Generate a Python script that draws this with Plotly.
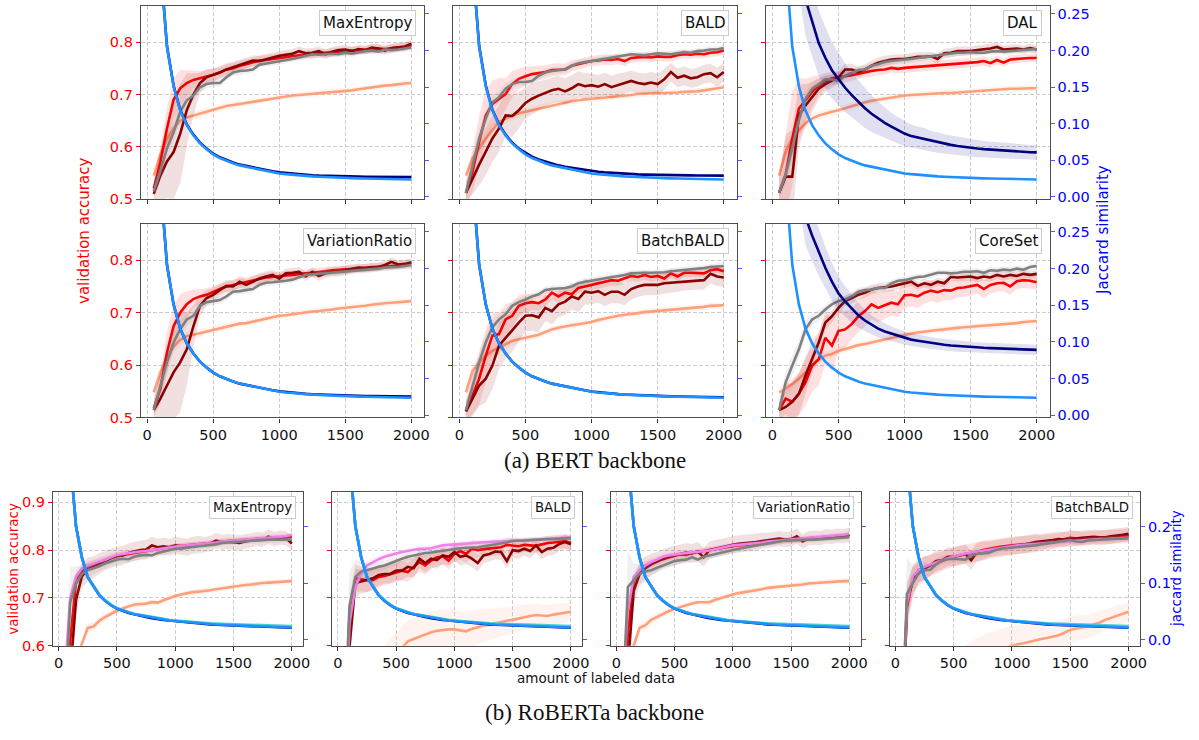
import plotly.graph_objects as go

W, H = 1199, 740

# amount of labeled data (shared x positions for every curve)
X_LABELED = [50, 100, 150, 200, 250, 300, 350, 400, 450, 500,
             550, 600, 650, 700, 750, 800, 850, 900, 950, 1000,
             1050, 1100, 1150, 1200, 1250, 1300, 1350, 1400, 1450, 1500,
             1550, 1600, 1650, 1700, 1750, 1800, 1850, 1900, 1950, 2000]

# ---------------- BERT: validation accuracy ----------------
ME_RED = [0.520, 0.570, 0.635, 0.690, 0.712, 0.722, 0.728, 0.731, 0.735, 0.738,
          0.742, 0.748, 0.750, 0.755, 0.758, 0.762, 0.765, 0.766, 0.768, 0.770,
          0.772, 0.774, 0.775, 0.776, 0.778, 0.779, 0.780, 0.781, 0.782, 0.783,
          0.784, 0.785, 0.786, 0.787, 0.788, 0.787, 0.789, 0.790, 0.791, 0.794]
ME_DRED = [0.510, 0.545, 0.572, 0.590, 0.625, 0.670, 0.700, 0.722, 0.733, 0.737,
           0.742, 0.748, 0.752, 0.756, 0.760, 0.765, 0.764, 0.768, 0.771, 0.774,
           0.776, 0.778, 0.783, 0.779, 0.780, 0.783, 0.777, 0.782, 0.785, 0.786,
           0.783, 0.787, 0.785, 0.790, 0.788, 0.784, 0.789, 0.790, 0.792, 0.797]
ME_GRAY = [0.515, 0.553, 0.597, 0.628, 0.667, 0.689, 0.698, 0.714, 0.720, 0.722,
           0.722, 0.733, 0.742, 0.745, 0.746, 0.748, 0.757, 0.759, 0.761, 0.763,
           0.765, 0.768, 0.771, 0.774, 0.777, 0.776, 0.777, 0.778, 0.777, 0.780,
           0.778, 0.781, 0.783, 0.784, 0.782, 0.786, 0.785, 0.786, 0.788, 0.790]
ME_SAL = [0.545, 0.585, 0.615, 0.635, 0.650, 0.656, 0.660, 0.663, 0.667, 0.671,
          0.675, 0.678, 0.680, 0.682, 0.685, 0.687, 0.689, 0.691, 0.693, 0.695,
          0.697, 0.698, 0.699, 0.700, 0.701, 0.703, 0.704, 0.705, 0.706, 0.707,
          0.708, 0.710, 0.712, 0.714, 0.716, 0.717, 0.718, 0.720, 0.721, 0.722]

BALD_RED = [0.512, 0.553, 0.610, 0.660, 0.682, 0.692, 0.701, 0.720, 0.730, 0.735,
            0.739, 0.741, 0.743, 0.747, 0.748, 0.748, 0.755, 0.758, 0.761, 0.764,
            0.765, 0.767, 0.766, 0.768, 0.764, 0.770, 0.771, 0.772, 0.771, 0.773,
            0.772, 0.772, 0.775, 0.777, 0.776, 0.778, 0.777, 0.780, 0.781, 0.784]
BALD_DRED = [0.512, 0.540, 0.566, 0.591, 0.616, 0.635, 0.660, 0.659, 0.670, 0.684,
             0.692, 0.698, 0.703, 0.708, 0.711, 0.706, 0.712, 0.720, 0.716, 0.718,
             0.715, 0.720, 0.714, 0.718, 0.722, 0.726, 0.722, 0.720, 0.723, 0.720,
             0.729, 0.743, 0.732, 0.736, 0.731, 0.733, 0.739, 0.741, 0.733, 0.743]
BALD_GRAY = [0.512, 0.565, 0.616, 0.654, 0.685, 0.695, 0.711, 0.720, 0.724, 0.724,
             0.726, 0.736, 0.742, 0.745, 0.746, 0.748, 0.755, 0.760, 0.762, 0.764,
             0.766, 0.768, 0.770, 0.772, 0.774, 0.777, 0.776, 0.775, 0.777, 0.779,
             0.778, 0.777, 0.779, 0.781, 0.780, 0.783, 0.784, 0.786, 0.786, 0.789]
BALD_SAL = [0.545, 0.578, 0.597, 0.616, 0.632, 0.648, 0.654, 0.659, 0.664, 0.667,
            0.670, 0.673, 0.676, 0.679, 0.682, 0.685, 0.687, 0.689, 0.691, 0.692,
            0.693, 0.694, 0.696, 0.697, 0.698, 0.699, 0.701, 0.702, 0.702, 0.703,
            0.703, 0.703, 0.704, 0.705, 0.705, 0.706, 0.708, 0.710, 0.712, 0.714]

DAL_RED = [0.512, 0.547, 0.616, 0.673, 0.689, 0.705, 0.717, 0.726, 0.731, 0.733,
           0.734, 0.737, 0.740, 0.743, 0.745, 0.747, 0.748, 0.751, 0.749, 0.751,
           0.752, 0.753, 0.754, 0.755, 0.755, 0.757, 0.757, 0.758, 0.759, 0.761,
           0.762, 0.764, 0.760, 0.766, 0.761, 0.767, 0.768, 0.770, 0.770, 0.770]
DAL_DRED = [0.512, 0.543, 0.543, 0.660, 0.679, 0.695, 0.711, 0.720, 0.726, 0.733,
            0.748, 0.748, 0.743, 0.748, 0.755, 0.761, 0.764, 0.767, 0.768, 0.768,
            0.770, 0.772, 0.772, 0.773, 0.768, 0.779, 0.780, 0.783, 0.783, 0.783,
            0.785, 0.786, 0.788, 0.791, 0.786, 0.787, 0.788, 0.786, 0.789, 0.786]
DAL_GRAY = [0.512, 0.547, 0.597, 0.651, 0.692, 0.711, 0.720, 0.729, 0.729, 0.726,
            0.736, 0.742, 0.747, 0.748, 0.755, 0.758, 0.762, 0.764, 0.765, 0.766,
            0.768, 0.770, 0.771, 0.773, 0.775, 0.777, 0.778, 0.780, 0.780, 0.781,
            0.780, 0.780, 0.782, 0.783, 0.782, 0.783, 0.784, 0.786, 0.786, 0.787]
DAL_SAL = [0.545, 0.591, 0.616, 0.632, 0.645, 0.654, 0.660, 0.664, 0.667, 0.670,
           0.674, 0.678, 0.681, 0.685, 0.688, 0.690, 0.693, 0.695, 0.696, 0.698,
           0.699, 0.700, 0.700, 0.701, 0.702, 0.703, 0.703, 0.704, 0.705, 0.706,
           0.707, 0.707, 0.708, 0.709, 0.710, 0.711, 0.711, 0.712, 0.712, 0.712]

VR_RED = [0.517, 0.555, 0.624, 0.674, 0.700, 0.716, 0.726, 0.731, 0.734, 0.740,
          0.745, 0.750, 0.753, 0.756, 0.759, 0.762, 0.765, 0.767, 0.768, 0.770,
          0.771, 0.772, 0.774, 0.775, 0.776, 0.777, 0.779, 0.781, 0.782, 0.782,
          0.783, 0.784, 0.785, 0.786, 0.788, 0.789, 0.789, 0.790, 0.791, 0.792]
VR_DRED = [0.514, 0.536, 0.561, 0.586, 0.605, 0.630, 0.674, 0.713, 0.728, 0.734,
           0.743, 0.751, 0.750, 0.759, 0.753, 0.759, 0.765, 0.769, 0.772, 0.765,
           0.775, 0.776, 0.778, 0.769, 0.778, 0.770, 0.775, 0.778, 0.778, 0.781,
           0.784, 0.786, 0.785, 0.787, 0.787, 0.791, 0.797, 0.792, 0.793, 0.796]
VR_GRAY = [0.514, 0.561, 0.605, 0.643, 0.668, 0.687, 0.694, 0.713, 0.720, 0.722,
           0.724, 0.731, 0.740, 0.741, 0.743, 0.745, 0.753, 0.757, 0.758, 0.759,
           0.761, 0.763, 0.768, 0.772, 0.773, 0.774, 0.775, 0.776, 0.777, 0.778,
           0.779, 0.781, 0.781, 0.782, 0.784, 0.786, 0.786, 0.787, 0.789, 0.791]
VR_SAL = [0.548, 0.586, 0.615, 0.635, 0.648, 0.655, 0.658, 0.661, 0.665, 0.668,
          0.671, 0.674, 0.677, 0.679, 0.680, 0.683, 0.686, 0.689, 0.692, 0.694,
          0.695, 0.697, 0.699, 0.700, 0.702, 0.703, 0.704, 0.706, 0.708, 0.709,
          0.710, 0.711, 0.713, 0.715, 0.717, 0.718, 0.719, 0.720, 0.721, 0.722]

BB_RED = [0.514, 0.542, 0.574, 0.618, 0.656, 0.659, 0.687, 0.694, 0.713, 0.718,
          0.720, 0.718, 0.725, 0.738, 0.731, 0.738, 0.735, 0.747, 0.750, 0.753,
          0.756, 0.759, 0.762, 0.761, 0.765, 0.770, 0.768, 0.772, 0.768, 0.770,
          0.765, 0.775, 0.769, 0.776, 0.776, 0.775, 0.775, 0.781, 0.783, 0.779]
BB_DRED = [0.511, 0.536, 0.561, 0.574, 0.599, 0.637, 0.652, 0.665, 0.681, 0.694,
           0.695, 0.691, 0.709, 0.703, 0.716, 0.721, 0.731, 0.726, 0.740, 0.738,
           0.741, 0.734, 0.740, 0.740, 0.734, 0.745, 0.750, 0.753, 0.753, 0.753,
           0.756, 0.757, 0.758, 0.760, 0.761, 0.762, 0.762, 0.774, 0.769, 0.767]
BB_GRAY = [0.514, 0.561, 0.605, 0.643, 0.672, 0.687, 0.697, 0.713, 0.720, 0.725,
           0.731, 0.735, 0.743, 0.745, 0.746, 0.747, 0.750, 0.756, 0.759, 0.761,
           0.763, 0.765, 0.767, 0.770, 0.772, 0.775, 0.776, 0.776, 0.776, 0.776,
           0.777, 0.779, 0.780, 0.781, 0.782, 0.784, 0.785, 0.787, 0.788, 0.789]
BB_SAL = [0.548, 0.589, 0.605, 0.618, 0.627, 0.633, 0.640, 0.646, 0.649, 0.652,
          0.655, 0.658, 0.663, 0.668, 0.671, 0.674, 0.676, 0.678, 0.680, 0.682,
          0.686, 0.689, 0.692, 0.694, 0.696, 0.697, 0.699, 0.701, 0.702, 0.703,
          0.704, 0.705, 0.707, 0.708, 0.708, 0.709, 0.711, 0.713, 0.713, 0.714]

CS_RED = [0.514, 0.536, 0.530, 0.545, 0.567, 0.599, 0.611, 0.652, 0.637, 0.665,
          0.668, 0.678, 0.693, 0.703, 0.716, 0.709, 0.714, 0.719, 0.716, 0.733,
          0.734, 0.731, 0.738, 0.742, 0.739, 0.743, 0.742, 0.747, 0.748, 0.750,
          0.753, 0.745, 0.753, 0.756, 0.757, 0.750, 0.760, 0.762, 0.761, 0.758]
CS_DRED = [0.514, 0.520, 0.530, 0.545, 0.580, 0.611, 0.643, 0.681, 0.693, 0.709,
           0.722, 0.728, 0.734, 0.738, 0.744, 0.747, 0.748, 0.750, 0.753, 0.756,
           0.759, 0.751, 0.756, 0.753, 0.759, 0.756, 0.768, 0.767, 0.768, 0.769,
           0.766, 0.769, 0.767, 0.772, 0.769, 0.772, 0.770, 0.774, 0.772, 0.774]
CS_GRAY = [0.514, 0.567, 0.599, 0.630, 0.668, 0.687, 0.694, 0.706, 0.716, 0.722,
           0.725, 0.731, 0.740, 0.743, 0.744, 0.747, 0.747, 0.756, 0.761, 0.762,
           0.765, 0.768, 0.769, 0.772, 0.776, 0.776, 0.775, 0.776, 0.778, 0.778,
           0.779, 0.776, 0.781, 0.780, 0.782, 0.781, 0.784, 0.782, 0.787, 0.789]
CS_SAL = [0.548, 0.555, 0.564, 0.574, 0.586, 0.599, 0.611, 0.618, 0.621, 0.627,
          0.631, 0.635, 0.638, 0.640, 0.643, 0.646, 0.649, 0.652, 0.655, 0.657,
          0.660, 0.662, 0.664, 0.665, 0.667, 0.668, 0.670, 0.671, 0.672, 0.673,
          0.673, 0.674, 0.675, 0.676, 0.677, 0.679, 0.680, 0.682, 0.683, 0.684]

# ---------------- BERT: Jaccard similarity ----------------
BERT_JBLUE = [0.600, 0.320, 0.205, 0.151, 0.118, 0.098, 0.084, 0.073, 0.065, 0.058,
              0.053, 0.049, 0.046, 0.043, 0.041, 0.039, 0.037, 0.0355, 0.0337, 0.032,
              0.031, 0.030, 0.0292, 0.0285, 0.028, 0.0275, 0.027, 0.0266, 0.0262, 0.0259,
              0.0256, 0.0253, 0.0251, 0.0249, 0.0247, 0.0245, 0.0243, 0.0241, 0.024, 0.0238]
ME_JNAVY = [0.600, 0.320, 0.206, 0.152, 0.119, 0.099, 0.085, 0.074, 0.066, 0.059,
            0.054, 0.050, 0.047, 0.044, 0.042, 0.040, 0.038, 0.0365, 0.035, 0.0335,
            0.0325, 0.0315, 0.0307, 0.030, 0.0295, 0.029, 0.0286, 0.0283, 0.028, 0.0278,
            0.0277, 0.0276, 0.0275, 0.0274, 0.0273, 0.0272, 0.0271, 0.0271, 0.027, 0.027]
BALD_JNAVY = [0.600, 0.320, 0.206, 0.152, 0.119, 0.099, 0.085, 0.074, 0.066, 0.060,
              0.055, 0.051, 0.048, 0.045, 0.043, 0.041, 0.0395, 0.038, 0.0365, 0.0352,
              0.0342, 0.0334, 0.0327, 0.032, 0.0315, 0.0311, 0.0307, 0.0304, 0.0301, 0.0299,
              0.0297, 0.0296, 0.0295, 0.0294, 0.0293, 0.0292, 0.0291, 0.0291, 0.029, 0.029]
DAL_JNAVY = [0.900, 0.600, 0.420, 0.330, 0.270, 0.240, 0.210, 0.190, 0.173, 0.161,
             0.149, 0.139, 0.130, 0.121, 0.1135, 0.107, 0.101, 0.096, 0.091, 0.0865,
             0.083, 0.081, 0.079, 0.076, 0.0743, 0.0725, 0.071, 0.0695, 0.068, 0.067,
             0.066, 0.0652, 0.0645, 0.0638, 0.063, 0.0624, 0.0618, 0.0613, 0.061, 0.0608]
VR_JNAVY = [0.600, 0.320, 0.205, 0.151, 0.118, 0.098, 0.084, 0.073, 0.065, 0.058,
            0.053, 0.049, 0.046, 0.043, 0.041, 0.039, 0.037, 0.0357, 0.034, 0.0325,
            0.0314, 0.0305, 0.0297, 0.029, 0.0285, 0.0281, 0.0277, 0.0273, 0.027, 0.0268,
            0.0266, 0.0264, 0.0262, 0.0261, 0.026, 0.0259, 0.0258, 0.0257, 0.0256, 0.0255]
BB_JNAVY = [0.600, 0.320, 0.205, 0.151, 0.118, 0.098, 0.084, 0.073, 0.065, 0.058,
            0.053, 0.049, 0.046, 0.043, 0.041, 0.039, 0.037, 0.0356, 0.0339, 0.0323,
            0.0312, 0.0302, 0.0294, 0.0287, 0.0281, 0.0276, 0.0272, 0.0268, 0.0264, 0.0261,
            0.0258, 0.0256, 0.0254, 0.0252, 0.025, 0.0249, 0.0248, 0.0247, 0.0246, 0.0245]
CS_JNAVY = [0.900, 0.600, 0.420, 0.330, 0.270, 0.245, 0.222, 0.201, 0.182, 0.166,
            0.155, 0.145, 0.136, 0.129, 0.123, 0.118, 0.114, 0.111, 0.108, 0.105,
            0.103, 0.1015, 0.100, 0.098, 0.097, 0.096, 0.095, 0.0942, 0.0935, 0.0927,
            0.0922, 0.0918, 0.0914, 0.091, 0.0907, 0.0903, 0.090, 0.0896, 0.0893, 0.089]

# ---------------- RoBERTa: validation accuracy ----------------
R_ME_VIOLET = [0.528, 0.700, 0.745, 0.762, 0.767, 0.772, 0.776, 0.780, 0.785, 0.790,
               0.792, 0.794, 0.796, 0.797, 0.798, 0.800, 0.802, 0.804, 0.806, 0.808,
               0.809, 0.810, 0.811, 0.812, 0.813, 0.815, 0.816, 0.818, 0.819, 0.820,
               0.821, 0.822, 0.823, 0.824, 0.825, 0.826, 0.827, 0.828, 0.829, 0.832]
R_ME_RED = [0.450, 0.610, 0.735, 0.755, 0.765, 0.770, 0.775, 0.779, 0.784, 0.788,
            0.790, 0.793, 0.795, 0.797, 0.799, 0.801, 0.803, 0.805, 0.806, 0.808,
            0.809, 0.810, 0.811, 0.812, 0.813, 0.815, 0.816, 0.818, 0.819, 0.820,
            0.821, 0.822, 0.823, 0.823, 0.824, 0.825, 0.826, 0.826, 0.827, 0.828]
R_ME_DRED = [0.300, 0.540, 0.696, 0.745, 0.760, 0.765, 0.772, 0.778, 0.783, 0.787,
             0.789, 0.794, 0.797, 0.800, 0.801, 0.810, 0.806, 0.808, 0.806, 0.810,
             0.808, 0.806, 0.810, 0.812, 0.811, 0.814, 0.820, 0.816, 0.818, 0.817,
             0.815, 0.818, 0.821, 0.823, 0.822, 0.828, 0.823, 0.826, 0.825, 0.814]
R_ME_GRAY = [0.450, 0.690, 0.730, 0.750, 0.758, 0.762, 0.766, 0.772, 0.776, 0.780,
             0.782, 0.781, 0.786, 0.789, 0.790, 0.789, 0.794, 0.797, 0.800, 0.803,
             0.803, 0.805, 0.806, 0.808, 0.809, 0.810, 0.812, 0.815, 0.816, 0.817,
             0.818, 0.819, 0.820, 0.820, 0.821, 0.822, 0.822, 0.822, 0.822, 0.822]
R_ME_SAL = [0.400, 0.500, 0.570, 0.605, 0.637, 0.640, 0.652, 0.660, 0.667, 0.673,
            0.678, 0.682, 0.686, 0.687, 0.688, 0.691, 0.690, 0.695, 0.700, 0.704,
            0.707, 0.710, 0.712, 0.713, 0.714, 0.716, 0.718, 0.720, 0.722, 0.724,
            0.725, 0.727, 0.728, 0.730, 0.731, 0.732, 0.733, 0.734, 0.734, 0.735]

R_BALD_VIOLET = [0.350, 0.647, 0.723, 0.751, 0.768, 0.775, 0.781, 0.786, 0.790, 0.793,
                 0.796, 0.798, 0.801, 0.803, 0.803, 0.804, 0.807, 0.810, 0.811, 0.812,
                 0.813, 0.814, 0.814, 0.815, 0.816, 0.817, 0.818, 0.818, 0.819, 0.820,
                 0.820, 0.820, 0.821, 0.821, 0.822, 0.823, 0.824, 0.825, 0.826, 0.827]
R_BALD_RED = [0.350, 0.668, 0.741, 0.739, 0.737, 0.737, 0.744, 0.746, 0.750, 0.754,
              0.757, 0.754, 0.765, 0.775, 0.768, 0.778, 0.785, 0.787, 0.778, 0.792,
              0.798, 0.792, 0.803, 0.800, 0.802, 0.803, 0.805, 0.806, 0.811, 0.810,
              0.808, 0.811, 0.810, 0.809, 0.812, 0.815, 0.816, 0.818, 0.819, 0.815]
R_BALD_DRED = [0.300, 0.599, 0.731, 0.734, 0.737, 0.741, 0.748, 0.750, 0.750, 0.757,
               0.757, 0.765, 0.762, 0.782, 0.773, 0.782, 0.779, 0.789, 0.786, 0.796,
               0.786, 0.789, 0.782, 0.773, 0.789, 0.792, 0.797, 0.796, 0.777, 0.800,
               0.798, 0.803, 0.798, 0.810, 0.796, 0.803, 0.805, 0.813, 0.817, 0.812]
R_BALD_GRAY = [0.400, 0.683, 0.744, 0.755, 0.758, 0.762, 0.765, 0.768, 0.773, 0.777,
               0.782, 0.786, 0.789, 0.792, 0.794, 0.795, 0.797, 0.799, 0.801, 0.803,
               0.804, 0.805, 0.805, 0.806, 0.808, 0.810, 0.811, 0.813, 0.816, 0.819,
               0.819, 0.820, 0.821, 0.822, 0.822, 0.823, 0.823, 0.824, 0.824, 0.825]
R_BALD_SAL = [0.350, 0.400, 0.440, 0.470, 0.500, 0.520, 0.540, 0.555, 0.570, 0.580,
              0.595, 0.609, 0.614, 0.619, 0.624, 0.628, 0.631, 0.633, 0.634, 0.634,
              0.632, 0.630, 0.635, 0.639, 0.642, 0.644, 0.647, 0.650, 0.652, 0.654,
              0.657, 0.659, 0.662, 0.664, 0.663, 0.662, 0.665, 0.667, 0.669, 0.671]

R_VR_VIOLET = [0.500, 0.675, 0.744, 0.758, 0.768, 0.775, 0.780, 0.786, 0.789, 0.791,
               0.793, 0.794, 0.795, 0.796, 0.797, 0.799, 0.802, 0.805, 0.808, 0.810,
               0.811, 0.812, 0.814, 0.815, 0.816, 0.818, 0.819, 0.821, 0.822, 0.823,
               0.824, 0.825, 0.826, 0.827, 0.828, 0.829, 0.830, 0.831, 0.832, 0.834]
R_VR_RED = [0.420, 0.630, 0.735, 0.755, 0.766, 0.772, 0.777, 0.781, 0.785, 0.788,
            0.791, 0.790, 0.794, 0.796, 0.799, 0.801, 0.803, 0.805, 0.807, 0.808,
            0.810, 0.811, 0.812, 0.813, 0.815, 0.816, 0.818, 0.819, 0.820, 0.821,
            0.822, 0.823, 0.824, 0.825, 0.826, 0.827, 0.828, 0.829, 0.830, 0.831]
R_VR_DRED = [0.300, 0.560, 0.715, 0.750, 0.762, 0.770, 0.776, 0.782, 0.786, 0.789,
             0.792, 0.795, 0.793, 0.797, 0.785, 0.800, 0.803, 0.806, 0.808, 0.811,
             0.813, 0.814, 0.816, 0.817, 0.819, 0.821, 0.822, 0.824, 0.822, 0.823,
             0.829, 0.818, 0.825, 0.826, 0.825, 0.829, 0.828, 0.830, 0.829, 0.832]
R_VR_GRAY = [0.450, 0.723, 0.737, 0.751, 0.755, 0.758, 0.763, 0.768, 0.772, 0.777,
             0.779, 0.780, 0.785, 0.780, 0.786, 0.789, 0.792, 0.795, 0.798, 0.801,
             0.803, 0.805, 0.807, 0.810, 0.812, 0.814, 0.816, 0.818, 0.820, 0.820,
             0.821, 0.822, 0.822, 0.822, 0.823, 0.823, 0.824, 0.825, 0.826, 0.827]
R_VR_SAL = [0.400, 0.500, 0.600, 0.637, 0.643, 0.654, 0.660, 0.667, 0.672, 0.677,
            0.681, 0.684, 0.688, 0.691, 0.691, 0.691, 0.696, 0.700, 0.704, 0.707,
            0.710, 0.712, 0.714, 0.715, 0.718, 0.721, 0.722, 0.723, 0.725, 0.726,
            0.727, 0.728, 0.730, 0.731, 0.732, 0.733, 0.734, 0.735, 0.735, 0.735]

R_BB_VIOLET = [0.400, 0.690, 0.745, 0.758, 0.765, 0.770, 0.775, 0.779, 0.783, 0.787,
               0.790, 0.793, 0.795, 0.797, 0.799, 0.801, 0.803, 0.805, 0.807, 0.809,
               0.810, 0.811, 0.812, 0.813, 0.814, 0.815, 0.816, 0.817, 0.818, 0.819,
               0.820, 0.821, 0.821, 0.822, 0.823, 0.823, 0.824, 0.825, 0.825, 0.826]
R_BB_RED = [0.350, 0.681, 0.741, 0.751, 0.762, 0.768, 0.772, 0.777, 0.782, 0.786,
            0.789, 0.792, 0.794, 0.796, 0.800, 0.803, 0.805, 0.807, 0.809, 0.810,
            0.811, 0.812, 0.812, 0.813, 0.815, 0.816, 0.818, 0.820, 0.823, 0.826,
            0.824, 0.823, 0.824, 0.825, 0.826, 0.827, 0.828, 0.829, 0.830, 0.830]
R_BB_DRED = [0.320, 0.695, 0.734, 0.758, 0.762, 0.768, 0.777, 0.779, 0.786, 0.786,
             0.789, 0.792, 0.779, 0.796, 0.798, 0.800, 0.802, 0.804, 0.806, 0.808,
             0.810, 0.811, 0.814, 0.817, 0.818, 0.820, 0.821, 0.823, 0.822, 0.823,
             0.825, 0.826, 0.827, 0.828, 0.827, 0.827, 0.829, 0.830, 0.832, 0.834]
R_BB_GRAY = [0.400, 0.709, 0.731, 0.751, 0.758, 0.759, 0.770, 0.779, 0.781, 0.782,
             0.781, 0.780, 0.789, 0.792, 0.793, 0.794, 0.799, 0.803, 0.804, 0.805,
             0.806, 0.808, 0.809, 0.810, 0.812, 0.814, 0.815, 0.817, 0.819, 0.821,
             0.818, 0.817, 0.820, 0.821, 0.822, 0.823, 0.823, 0.824, 0.824, 0.825]
R_BB_SAL = [0.300, 0.330, 0.360, 0.390, 0.420, 0.450, 0.470, 0.490, 0.510, 0.530,
            0.545, 0.555, 0.565, 0.572, 0.578, 0.583, 0.588, 0.592, 0.596, 0.600,
            0.603, 0.605, 0.608, 0.612, 0.614, 0.616, 0.619, 0.622, 0.627, 0.633,
            0.636, 0.638, 0.640, 0.645, 0.648, 0.654, 0.658, 0.662, 0.666, 0.671]

# ---------------- RoBERTa: Jaccard similarity ----------------
R_JBLUE = [0.600, 0.320, 0.200, 0.145, 0.110, 0.094, 0.078, 0.069, 0.061, 0.055,
           0.051, 0.048, 0.045, 0.043, 0.041, 0.039, 0.037, 0.035, 0.034, 0.033,
           0.032, 0.031, 0.030, 0.029, 0.028, 0.0275, 0.027, 0.0265, 0.026, 0.0258,
           0.0255, 0.025, 0.0245, 0.024, 0.0235, 0.023, 0.0225, 0.022, 0.0218, 0.0215]
R_JNAVY = [0.600, 0.320, 0.201, 0.146, 0.111, 0.094, 0.079, 0.069, 0.061, 0.055,
           0.051, 0.047, 0.045, 0.042, 0.040, 0.038, 0.036, 0.035, 0.034, 0.033,
           0.031, 0.030, 0.029, 0.028, 0.0275, 0.027, 0.0265, 0.026, 0.0255, 0.025,
           0.0245, 0.024, 0.0235, 0.023, 0.0225, 0.022, 0.0218, 0.0215, 0.0212, 0.021]
R_JTURQ = [0.600, 0.320, 0.200, 0.145, 0.111, 0.095, 0.079, 0.070, 0.062, 0.056,
           0.052, 0.049, 0.046, 0.044, 0.042, 0.040, 0.038, 0.036, 0.035, 0.034,
           0.033, 0.032, 0.031, 0.030, 0.0295, 0.029, 0.0285, 0.028, 0.0275, 0.027,
           0.0268, 0.0265, 0.0262, 0.026, 0.0257, 0.0254, 0.025, 0.0247, 0.0244, 0.024]

# ---------------- spread (std) of the runs, drawn as shaded bands ----------------
STD_NARROW = [0.010, 0.012, 0.012, 0.011, 0.010, 0.009, 0.008, 0.008, 0.007, 0.007,
              0.007, 0.007, 0.006, 0.006, 0.006, 0.006, 0.006, 0.006, 0.006, 0.006,
              0.006, 0.006, 0.006, 0.006, 0.006, 0.006, 0.006, 0.006, 0.006, 0.006,
              0.006, 0.006, 0.006, 0.006, 0.006, 0.006, 0.006, 0.006, 0.006, 0.006]
STD_RED_EARLY = [0.015, 0.030, 0.040, 0.040, 0.035, 0.025, 0.018, 0.014, 0.012, 0.011,
                 0.010, 0.010, 0.010, 0.009, 0.009, 0.009, 0.009, 0.009, 0.009, 0.009,
                 0.008, 0.008, 0.008, 0.008, 0.008, 0.008, 0.008, 0.008, 0.008, 0.008,
                 0.008, 0.008, 0.008, 0.008, 0.008, 0.008, 0.008, 0.008, 0.008, 0.008]
STD_DRED_EARLY = [0.020, 0.050, 0.070, 0.090, 0.095, 0.070, 0.040, 0.020, 0.015, 0.013,
                  0.012, 0.012, 0.011, 0.011, 0.010, 0.010, 0.010, 0.010, 0.010, 0.009,
                  0.009, 0.009, 0.009, 0.009, 0.009, 0.009, 0.009, 0.009, 0.009, 0.009,
                  0.008, 0.008, 0.008, 0.008, 0.008, 0.008, 0.008, 0.008, 0.008, 0.008]
STD_BALD_RED = [0.020, 0.040, 0.050, 0.050, 0.045, 0.040, 0.030, 0.025, 0.020, 0.018,
                0.015, 0.014, 0.013, 0.012, 0.012, 0.011, 0.011, 0.010, 0.010, 0.010,
                0.010, 0.010, 0.010, 0.010, 0.010, 0.009, 0.009, 0.009, 0.009, 0.009,
                0.009, 0.009, 0.009, 0.008, 0.008, 0.008, 0.008, 0.008, 0.008, 0.008]
STD_BALD_DRED = [0.020, 0.030, 0.040, 0.045, 0.045, 0.045, 0.040, 0.040, 0.035, 0.030,
                 0.030, 0.028, 0.025, 0.025, 0.025, 0.025, 0.025, 0.025, 0.025, 0.022,
                 0.022, 0.022, 0.022, 0.022, 0.020, 0.020, 0.020, 0.020, 0.020, 0.020,
                 0.020, 0.018, 0.018, 0.018, 0.018, 0.018, 0.018, 0.018, 0.018, 0.018]
STD_DAL_EARLY = [0.030, 0.080, 0.090, 0.060, 0.040, 0.030, 0.020, 0.015, 0.013, 0.012,
                 0.011, 0.011, 0.010, 0.010, 0.010, 0.010, 0.010, 0.009, 0.009, 0.009,
                 0.009, 0.009, 0.009, 0.009, 0.009, 0.009, 0.009, 0.009, 0.009, 0.009,
                 0.009, 0.009, 0.009, 0.008, 0.008, 0.008, 0.008, 0.008, 0.008, 0.008]
STD_CS_RED = [0.020, 0.030, 0.035, 0.040, 0.045, 0.050, 0.050, 0.050, 0.050, 0.040,
              0.035, 0.030, 0.030, 0.030, 0.028, 0.028, 0.026, 0.025, 0.025, 0.024,
              0.022, 0.022, 0.021, 0.020, 0.020, 0.019, 0.019, 0.018, 0.018, 0.018,
              0.017, 0.017, 0.017, 0.016, 0.016, 0.016, 0.015, 0.015, 0.015, 0.015]
STD_GRAY = [0.012, 0.020, 0.020, 0.018, 0.015, 0.012, 0.010, 0.009, 0.008, 0.008,
            0.007, 0.007, 0.007, 0.007, 0.006, 0.006, 0.006, 0.006, 0.006, 0.006,
            0.006, 0.006, 0.006, 0.006, 0.006, 0.006, 0.006, 0.006, 0.006, 0.006,
            0.006, 0.006, 0.006, 0.006, 0.006, 0.006, 0.006, 0.006, 0.006, 0.006]
STD_DAL_JNAVY = [0.050, 0.050, 0.050, 0.050, 0.050, 0.048, 0.045, 0.042, 0.039, 0.036,
                 0.033, 0.031, 0.029, 0.027, 0.025, 0.023, 0.021, 0.019, 0.018, 0.017,
                 0.016, 0.015, 0.015, 0.014, 0.014, 0.013, 0.013, 0.013, 0.012, 0.012,
                 0.012, 0.011, 0.011, 0.011, 0.011, 0.010, 0.010, 0.010, 0.010, 0.010]
STD_CS_JNAVY = [0.040, 0.040, 0.040, 0.040, 0.038, 0.035, 0.032, 0.029, 0.026, 0.023,
                0.021, 0.019, 0.017, 0.015, 0.013, 0.012, 0.011, 0.010, 0.0095, 0.009,
                0.0088, 0.0085, 0.0083, 0.008, 0.008, 0.0078, 0.0077, 0.0076, 0.0075, 0.0074,
                0.0073, 0.0072, 0.0072, 0.0071, 0.0071, 0.007, 0.007, 0.007, 0.007, 0.007]
R_STD_GRAY = [0.050, 0.075, 0.035, 0.020, 0.015, 0.012, 0.010, 0.010, 0.009, 0.009,
              0.008, 0.008, 0.008, 0.008, 0.008, 0.007, 0.007, 0.007, 0.007, 0.007,
              0.007, 0.007, 0.007, 0.006, 0.006, 0.006, 0.006, 0.006, 0.006, 0.006,
              0.006, 0.006, 0.006, 0.006, 0.006, 0.006, 0.006, 0.006, 0.006, 0.006]
R_STD_DRED = [0.030, 0.040, 0.030, 0.025, 0.025, 0.022, 0.022, 0.020, 0.020, 0.020,
              0.020, 0.020, 0.020, 0.020, 0.020, 0.018, 0.018, 0.018, 0.018, 0.018,
              0.018, 0.018, 0.018, 0.018, 0.016, 0.016, 0.016, 0.016, 0.016, 0.016,
              0.016, 0.015, 0.015, 0.015, 0.015, 0.015, 0.015, 0.015, 0.015, 0.015]
R_STD_SAL_WIDE = [0.050, 0.050, 0.050, 0.050, 0.050, 0.048, 0.047, 0.046, 0.046, 0.046,
                  0.045, 0.045, 0.044, 0.044, 0.044, 0.044, 0.043, 0.043, 0.042, 0.042,
                  0.040, 0.039, 0.038, 0.036, 0.035, 0.033, 0.032, 0.030, 0.029, 0.028,
                  0.027, 0.026, 0.025, 0.024, 0.023, 0.022, 0.022, 0.021, 0.021, 0.020]

TICKS_X = [0, 500, 1000, 1500, 2000]
BERT_ACC_TICKS = [0.5, 0.6, 0.7, 0.8]
BERT_JAC_TICKS = [0.0, 0.05, 0.10, 0.15, 0.20, 0.25]
ROB_ACC_TICKS = [0.6, 0.7, 0.8, 0.9]
ROB_JAC_TICKS = [0.0, 0.1, 0.2]

RED = "#ff0000"
DARKRED = "#8b0000"
GREY = "#808080"
SALMON = "#ffa07a"
VIOLET = "#ee82ee"
DODGER = "#1e90ff"
NAVY = "#000080"
TURQ = "#48d1cc"
FONT = "DejaVu Sans"


def rgba(hex_color, alpha):
    h = hex_color.lstrip("#")
    r, g, b = int(h[0:2], 16), int(h[2:4], 16), int(h[4:6], 16)
    return f"rgba({r},{g},{b},{alpha})"


# (name, panel box in px: left, top, right, bottom, accuracy series, jaccard series,
#  show x labels, show left labels, show right labels, backbone)
# series entries: (values, std or None, colour)
PANELS = [
    ("MaxEntropy", (141.7, 5.7, 426.7, 201.3),
     [(ME_SAL, STD_NARROW, SALMON), (ME_RED, STD_RED_EARLY, RED),
      (ME_DRED, STD_DRED_EARLY, DARKRED), (ME_GRAY, STD_GRAY, GREY)],
     [(ME_JNAVY, None, NAVY), (BERT_JBLUE, None, DODGER)], False, True, False, "bert"),
    ("BALD", (455.7, 5.7, 741.0, 201.3),
     [(BALD_SAL, STD_NARROW, SALMON), (BALD_RED, STD_BALD_RED, RED),
      (BALD_DRED, STD_BALD_DRED, DARKRED), (BALD_GRAY, STD_GRAY, GREY)],
     [(BALD_JNAVY, None, NAVY), (BERT_JBLUE, None, DODGER)], False, False, False, "bert"),
    ("DAL", (770.7, 5.7, 1055.7, 201.3),
     [(DAL_SAL, STD_NARROW, SALMON), (DAL_RED, STD_DAL_EARLY, RED),
      (DAL_DRED, STD_DAL_EARLY, DARKRED), (DAL_GRAY, STD_GRAY, GREY)],
     [(DAL_JNAVY, STD_DAL_JNAVY, NAVY), (BERT_JBLUE, None, DODGER)], False, False, True, "bert"),
    ("VariationRatio", (141.7, 226.0, 426.7, 422.0),
     [(VR_SAL, STD_NARROW, SALMON), (VR_RED, STD_RED_EARLY, RED),
      (VR_DRED, STD_DRED_EARLY, DARKRED), (VR_GRAY, STD_GRAY, GREY)],
     [(VR_JNAVY, None, NAVY), (BERT_JBLUE, None, DODGER)], True, True, False, "bert"),
    ("BatchBALD", (455.7, 226.0, 741.0, 422.0),
     [(BB_SAL, STD_NARROW, SALMON), (BB_RED, STD_BALD_RED, RED),
      (BB_DRED, STD_BALD_DRED, DARKRED), (BB_GRAY, STD_GRAY, GREY)],
     [(BB_JNAVY, None, NAVY), (BERT_JBLUE, None, DODGER)], True, False, False, "bert"),
    ("CoreSet", (770.7, 226.0, 1055.7, 422.0),
     [(CS_SAL, STD_NARROW, SALMON), (CS_RED, STD_CS_RED, RED),
      (CS_DRED, STD_RED_EARLY, DARKRED), (CS_GRAY, STD_GRAY, GREY)],
     [(CS_JNAVY, STD_CS_JNAVY, NAVY), (BERT_JBLUE, None, DODGER)], True, False, True, "bert"),
    ("MaxEntropy", (53.3, 497.7, 305.0, 652.7),
     [(R_ME_SAL, STD_NARROW, SALMON), (R_ME_RED, STD_NARROW, RED),
      (R_ME_DRED, R_STD_DRED, DARKRED), (R_ME_VIOLET, STD_NARROW, VIOLET),
      (R_ME_GRAY, R_STD_GRAY, GREY)],
     [(R_JNAVY, None, NAVY), (R_JTURQ, None, TURQ), (R_JBLUE, None, DODGER)],
     True, True, False, "roberta"),
    ("BALD", (334.3, 497.7, 585.7, 652.7),
     [(R_BALD_SAL, R_STD_SAL_WIDE, SALMON), (R_BALD_RED, R_STD_DRED, RED),
      (R_BALD_DRED, R_STD_DRED, DARKRED), (R_BALD_VIOLET, STD_NARROW, VIOLET),
      (R_BALD_GRAY, R_STD_GRAY, GREY)],
     [(R_JNAVY, None, NAVY), (R_JTURQ, None, TURQ), (R_JBLUE, None, DODGER)],
     True, False, False, "roberta"),
    ("VariationRatio", (614.3, 497.7, 865.7, 652.7),
     [(R_VR_SAL, STD_NARROW, SALMON), (R_VR_RED, STD_NARROW, RED),
      (R_VR_DRED, R_STD_DRED, DARKRED), (R_VR_VIOLET, STD_NARROW, VIOLET),
      (R_VR_GRAY, R_STD_GRAY, GREY)],
     [(R_JNAVY, None, NAVY), (R_JTURQ, None, TURQ), (R_JBLUE, None, DODGER)],
     True, False, False, "roberta"),
    ("BatchBALD", (895.0, 497.7, 1146.7, 652.7),
     [(R_BB_SAL, R_STD_SAL_WIDE, SALMON), (R_BB_RED, R_STD_DRED, RED),
      (R_BB_DRED, R_STD_DRED, DARKRED), (R_BB_VIOLET, STD_NARROW, VIOLET),
      (R_BB_GRAY, R_STD_GRAY, GREY)],
     [(R_JNAVY, None, NAVY), (R_JTURQ, None, TURQ), (R_JBLUE, None, DODGER)],
     True, False, True, "roberta"),
]

fig = go.Figure()
annotations = []


def add_curve(xref, yref, values, std, color):
    if std is not None:
        upper = [v + s for v, s in zip(values, std)]
        lower = [v - s for v, s in zip(values, std)]
        fig.add_trace(go.Scatter(
            x=X_LABELED + X_LABELED[::-1], y=upper + lower[::-1],
            xaxis=xref, yaxis=yref, mode="lines", fill="toself",
            fillcolor=rgba(color, 0.12), line=dict(width=0),
            hoverinfo="skip", showlegend=False))
    fig.add_trace(go.Scatter(
        x=X_LABELED, y=values, xaxis=xref, yaxis=yref, mode="lines",
        line=dict(color=color, width=2.6), showlegend=False))


grid_style = dict(showgrid=True, gridcolor="#cccccc", gridwidth=0.8, griddash="4px,2px",
                  zeroline=False)

for i, (name, box, acc, jac, show_x, show_left, show_right, backbone) in enumerate(PANELS, 1):
    x0, y0, x1, y1 = box
    dom_x = [x0 / W, x1 / W]
    dom_y = [1 - y1 / H, 1 - y0 / H]
    xa = "x" if i == 1 else f"x{i}"
    ya_l = "y" if i == 1 else f"y{2 * i - 1}"
    ya_r = f"y{2 * i}"
    xkey = "xaxis" if i == 1 else f"xaxis{i}"
    ylkey = "yaxis" if i == 1 else f"yaxis{2 * i - 1}"
    yrkey = f"yaxis{2 * i}"

    if backbone == "bert":
        acc_range, acc_ticks, acc_fmt = [0.5, 0.87], BERT_ACC_TICKS, ".1f"
        jac_range, jac_ticks, jac_fmt = [-0.0031, 0.2612], BERT_JAC_TICKS, ".2f"
        tick_size, legend_size = 14.5, 15
    else:
        acc_range, acc_ticks, acc_fmt = [0.6, 0.921], ROB_ACC_TICKS, ".1f"
        jac_range, jac_ticks, jac_fmt = [-0.0105, 0.2605], ROB_JAC_TICKS, ".1f"
        tick_size, legend_size = 14.5, 13.3

    fig.layout[xkey] = dict(
        domain=dom_x, range=[-47.5, 2097.5], anchor=ya_l, tickvals=TICKS_X,
        showticklabels=show_x, ticks="outside", ticklen=4, tickwidth=1, tickcolor="#333333",
        showline=True, linecolor="#4d4d4d", linewidth=1.2, mirror=True,
        tickfont=dict(family=FONT, size=tick_size, color="#111111"), **grid_style)
    fig.layout[ylkey] = dict(
        domain=dom_y, range=acc_range, anchor=xa, tickvals=acc_ticks, tickformat=acc_fmt,
        showticklabels=show_left, ticks="outside", ticklen=4, tickwidth=1, tickcolor=RED,
        showline=True, linecolor="#4d4d4d", linewidth=1.2, mirror=True,
        tickfont=dict(family=FONT, size=tick_size, color=RED), **grid_style)
    fig.layout[yrkey] = dict(
        overlaying=ya_l, side="right", anchor=xa, range=jac_range, tickvals=jac_ticks,
        tickformat=jac_fmt, showticklabels=show_right, ticks="outside", ticklen=4,
        tickwidth=1, tickcolor="#5555ff", showline=False, showgrid=False, zeroline=False,
        tickfont=dict(family=FONT, size=tick_size, color="#0000ff"))

    for values, std, color in acc:
        add_curve(xa, ya_l, values, std, color)
    for values, std, color in jac:
        add_curve(xa, ya_r, values, std, color)

    annotations.append(dict(
        text=name, xref=f"{xa} domain", yref=f"{ya_l} domain", x=1, y=1,
        xanchor="right", yanchor="top", xshift=-8 if backbone == "bert" else -7,
        yshift=-4, showarrow=False,
        font=dict(family=FONT, size=legend_size, color="#111111"),
        bgcolor="rgba(255,255,255,0.85)", bordercolor="#cccccc", borderwidth=1,
        borderpad=3))

# shared axis titles and captions
annotations += [
    dict(text="validation accuracy", x=85 / W, y=1 - 234 / H, textangle=-90,
         font=dict(family=FONT, size=15, color=RED)),
    dict(text="Jaccard similarity", x=1110 / W, y=1 - 233 / H, textangle=-90,
         font=dict(family=FONT, size=15, color="#0000ff")),
    dict(text="validation accuracy", x=13 / W, y=1 - 575 / H, textangle=-90,
         font=dict(family=FONT, size=13.5, color=RED)),
    dict(text="jaccard similarity", x=1183 / W, y=1 - 575 / H, textangle=-90,
         font=dict(family=FONT, size=13.5, color="#0000ff")),
    dict(text="amount of labeled data", x=600 / W, y=1 - 685 / H,
         font=dict(family=FONT, size=13.5, color="#111111")),
    dict(text="(a) BERT backbone", x=598 / W, y=1 - 466 / H,
         font=dict(family="Liberation Serif", size=23, color="#111111")),
    dict(text="(b) RoBERTa backbone", x=598 / W, y=1 - 720 / H,
         font=dict(family="Liberation Serif", size=23, color="#111111")),
]
for a in annotations[-7:]:
    a.update(xref="paper", yref="paper", showarrow=False, xanchor="center", yanchor="middle")

fig.update_layout(
    width=W, height=H, margin=dict(l=0, r=0, t=0, b=0),
    paper_bgcolor="white", plot_bgcolor="white", showlegend=False,
    annotations=annotations,
)

fig.write_html("out.html")
